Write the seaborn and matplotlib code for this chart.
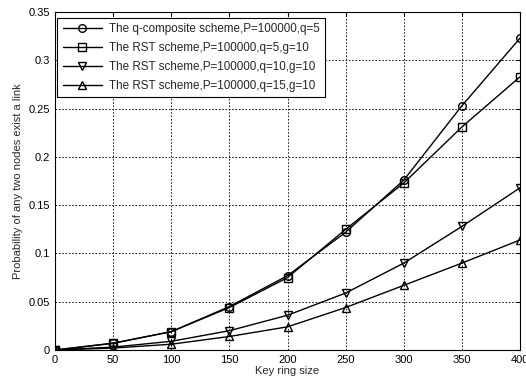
import matplotlib
matplotlib.use("Agg")
import matplotlib.pyplot as plt
import seaborn as sns
import pandas as pd

key_ring = [0, 50, 100, 150, 200, 250, 300, 350, 400]
q_composite = [0.0, 0.007, 0.019, 0.045, 0.077, 0.122, 0.176, 0.253, 0.323]
rst_q5 = [0.0, 0.007, 0.019, 0.044, 0.075, 0.125, 0.173, 0.231, 0.283]
rst_q10 = [0.0, 0.003, 0.009, 0.020, 0.036, 0.059, 0.090, 0.128, 0.168]
rst_q15 = [0.0, 0.002, 0.006, 0.014, 0.024, 0.044, 0.067, 0.090, 0.114]
labels = ["The q-composite scheme,P=100000,q=5",
          "The RST scheme,P=100000,q=5,g=10",
          "The RST scheme,P=100000,q=10,g=10",
          "The RST scheme,P=100000,q=15,g=10"]
markers = ["o", "s", "v", "^"]

sns.set_style("white")
plt.rcParams['font.family'] = ['Liberation Sans', 'DejaVu Sans']

rows = []
for lab, vals in zip(labels, [q_composite, rst_q5, rst_q10, rst_q15]):
    for x, y in zip(key_ring, vals):
        rows.append({"x": x, "y": y, "series": lab})
df = pd.DataFrame(rows)

fig = plt.figure(figsize=(5.26, 3.87), dpi=100)
ax = fig.add_axes([0.1046, 0.0956, 0.884, 0.873])

sns.lineplot(data=df, x="x", y="y", hue="series", style="series",
             palette=["black"] * 4, markers=markers, dashes=False,
             markersize=5.5, markerfacecolor="none", markeredgecolor="black",
             markeredgewidth=1.0, linewidth=1.0, ax=ax, legend=True)

ax.set_xlim(0, 400)
ax.set_ylim(0, 0.35)
ax.set_xticks(key_ring)
ax.set_yticks([0, 0.05, 0.1, 0.15, 0.2, 0.25, 0.3, 0.35])
ax.set_yticklabels(["0", "0.05", "0.1", "0.15", "0.2", "0.25", "0.3", "0.35"])
ax.grid(True, linestyle=(0, (2, 2)), color="black", linewidth=0.6)
ax.tick_params(direction="in", labelsize=8, length=3, colors="black",
               top=True, right=True)
for s in ax.spines.values():
    s.set_color("black")
    s.set_linewidth(0.8)
ax.set_xlabel("Key ring size", fontsize=8, labelpad=1)
ax.set_ylabel("Probability of any two nodes exist a link", fontsize=8, labelpad=4)

h, l = ax.get_legend_handles_labels()
for hh in h:
    hh.set_markerfacecolor("none")
    hh.set_markeredgecolor("black")
leg = ax.legend(h, l, loc="upper left", fontsize=8.4, frameon=True, fancybox=False,
                edgecolor="black", framealpha=1, borderpad=0.45, labelspacing=0.58,
                handlelength=3.4, handletextpad=0.6, borderaxespad=0,
                bbox_to_anchor=(0.005, 0.982))
leg.get_frame().set_linewidth(0.8)

fig.savefig("out.png", dpi=100)
